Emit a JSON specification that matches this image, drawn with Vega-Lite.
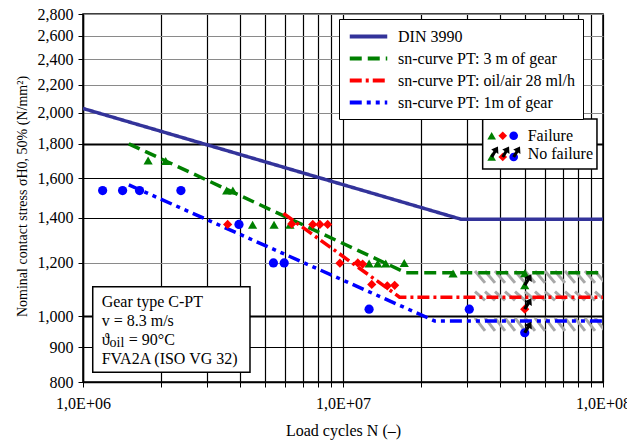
{
  "$schema": "https://vega.github.io/schema/vega-lite/v6.json",
  "width": 520,
  "height": 368,
  "autosize": {"type": "none"},
  "padding": {"left": 83, "top": 14, "right": 24, "bottom": 60},
  "background": "white",
  "config": {
    "font": "Liberation Serif",
    "view": {"stroke": "black", "strokeWidth": 1.5}
  },
  "datasets": {
    "curves": [
      {"series": "DIN 3990", "n": 1000000, "s": 2030},
      {"series": "DIN 3990", "n": 28500000, "s": 1392},
      {"series": "DIN 3990", "n": 100000000, "s": 1392},
      {"series": "sn-curve PT: 3 m of gear", "n": 1500000, "s": 1800},
      {"series": "sn-curve PT: 3 m of gear", "n": 17500000, "s": 1160},
      {"series": "sn-curve PT: 3 m of gear", "n": 100000000, "s": 1160},
      {"series": "sn-curve PT: oil/air 28 ml/h", "n": 5900000, "s": 1420},
      {"series": "sn-curve PT: oil/air 28 ml/h", "n": 16500000, "s": 1068},
      {"series": "sn-curve PT: oil/air 28 ml/h", "n": 100000000, "s": 1068},
      {"series": "sn-curve PT: 1m of gear", "n": 1500000, "s": 1565},
      {"series": "sn-curve PT: 1m of gear", "n": 22500000, "s": 985},
      {"series": "sn-curve PT: 1m of gear", "n": 100000000, "s": 985}
    ],
    "points": [
      {"series": "sn-curve PT: 1m of gear", "n": 1190000, "s": 1535, "nf": false},
      {"series": "sn-curve PT: 1m of gear", "n": 1420000, "s": 1535, "nf": false},
      {"series": "sn-curve PT: 1m of gear", "n": 1650000, "s": 1535, "nf": false},
      {"series": "sn-curve PT: 1m of gear", "n": 2380000, "s": 1535, "nf": false},
      {"series": "sn-curve PT: 1m of gear", "n": 3980000, "s": 1368, "nf": false},
      {"series": "sn-curve PT: 1m of gear", "n": 5400000, "s": 1200, "nf": false},
      {"series": "sn-curve PT: 1m of gear", "n": 5940000, "s": 1200, "nf": false},
      {"series": "sn-curve PT: 1m of gear", "n": 12600000, "s": 1025, "nf": false},
      {"series": "sn-curve PT: 1m of gear", "n": 30600000, "s": 1025, "nf": false},
      {"series": "sn-curve PT: 1m of gear", "n": 50000000, "s": 946, "nf": true},
      {"series": "sn-curve PT: 3 m of gear", "n": 1780000, "s": 1700, "nf": false},
      {"series": "sn-curve PT: 3 m of gear", "n": 2080000, "s": 1697, "nf": false},
      {"series": "sn-curve PT: 3 m of gear", "n": 3570000, "s": 1535, "nf": false},
      {"series": "sn-curve PT: 3 m of gear", "n": 3770000, "s": 1535, "nf": false},
      {"series": "sn-curve PT: 3 m of gear", "n": 4490000, "s": 1366, "nf": false},
      {"series": "sn-curve PT: 3 m of gear", "n": 5430000, "s": 1366, "nf": false},
      {"series": "sn-curve PT: 3 m of gear", "n": 6250000, "s": 1366, "nf": false},
      {"series": "sn-curve PT: 3 m of gear", "n": 12600000, "s": 1198, "nf": false},
      {"series": "sn-curve PT: 3 m of gear", "n": 13600000, "s": 1198, "nf": false},
      {"series": "sn-curve PT: 3 m of gear", "n": 14600000, "s": 1198, "nf": false},
      {"series": "sn-curve PT: 3 m of gear", "n": 17200000, "s": 1200, "nf": false},
      {"series": "sn-curve PT: 3 m of gear", "n": 26500000, "s": 1157, "nf": false},
      {"series": "sn-curve PT: 3 m of gear", "n": 50000000, "s": 1158, "nf": false},
      {"series": "sn-curve PT: 3 m of gear", "n": 50000000, "s": 1112, "nf": true},
      {"series": "sn-curve PT: oil/air 28 ml/h", "n": 3600000, "s": 1368, "nf": false},
      {"series": "sn-curve PT: oil/air 28 ml/h", "n": 6350000, "s": 1370, "nf": false},
      {"series": "sn-curve PT: oil/air 28 ml/h", "n": 7650000, "s": 1368, "nf": false},
      {"series": "sn-curve PT: oil/air 28 ml/h", "n": 8150000, "s": 1368, "nf": false},
      {"series": "sn-curve PT: oil/air 28 ml/h", "n": 8730000, "s": 1368, "nf": false},
      {"series": "sn-curve PT: oil/air 28 ml/h", "n": 9730000, "s": 1199, "nf": false},
      {"series": "sn-curve PT: oil/air 28 ml/h", "n": 11400000, "s": 1200, "nf": false},
      {"series": "sn-curve PT: oil/air 28 ml/h", "n": 11900000, "s": 1195, "nf": false},
      {"series": "sn-curve PT: oil/air 28 ml/h", "n": 12900000, "s": 1115, "nf": false},
      {"series": "sn-curve PT: oil/air 28 ml/h", "n": 14800000, "s": 1110, "nf": false},
      {"series": "sn-curve PT: oil/air 28 ml/h", "n": 15800000, "s": 1112, "nf": false},
      {"series": "sn-curve PT: oil/air 28 ml/h", "n": 50000000, "s": 1025, "nf": true}
    ],
    "hatch": [
      {"n": 32190000, "n2": 35170000, "s": 1167, "s2": 1121},
      {"n": 35170000, "n2": 38420000, "s": 1167, "s2": 1121},
      {"n": 38420000, "n2": 41980000, "s": 1167, "s2": 1121},
      {"n": 41980000, "n2": 45870000, "s": 1167, "s2": 1121},
      {"n": 45870000, "n2": 50120000, "s": 1167, "s2": 1121},
      {"n": 50120000, "n2": 54750000, "s": 1167, "s2": 1121},
      {"n": 54750000, "n2": 59820000, "s": 1167, "s2": 1121},
      {"n": 59820000, "n2": 65360000, "s": 1167, "s2": 1121},
      {"n": 65360000, "n2": 71420000, "s": 1167, "s2": 1121},
      {"n": 71420000, "n2": 78020000, "s": 1167, "s2": 1121},
      {"n": 78020000, "n2": 85250000, "s": 1167, "s2": 1121},
      {"n": 85250000, "n2": 93160000, "s": 1167, "s2": 1121},
      {"n": 93160000, "n2": 101800000, "s": 1167, "s2": 1121},
      {"n": 32190000, "n2": 35170000, "s": 1088, "s2": 1056},
      {"n": 35170000, "n2": 38420000, "s": 1088, "s2": 1056},
      {"n": 38420000, "n2": 41980000, "s": 1088, "s2": 1056},
      {"n": 41980000, "n2": 45870000, "s": 1088, "s2": 1056},
      {"n": 45870000, "n2": 50120000, "s": 1088, "s2": 1056},
      {"n": 50120000, "n2": 54750000, "s": 1088, "s2": 1056},
      {"n": 54750000, "n2": 59820000, "s": 1088, "s2": 1056},
      {"n": 59820000, "n2": 65360000, "s": 1088, "s2": 1056},
      {"n": 65360000, "n2": 71420000, "s": 1088, "s2": 1056},
      {"n": 71420000, "n2": 78020000, "s": 1088, "s2": 1056},
      {"n": 78020000, "n2": 85250000, "s": 1088, "s2": 1056},
      {"n": 85250000, "n2": 93160000, "s": 1088, "s2": 1056},
      {"n": 93160000, "n2": 101800000, "s": 1088, "s2": 1056},
      {"n": 32190000, "n2": 35170000, "s": 995, "s2": 952},
      {"n": 35170000, "n2": 38420000, "s": 995, "s2": 952},
      {"n": 38420000, "n2": 41980000, "s": 995, "s2": 952},
      {"n": 41980000, "n2": 45870000, "s": 995, "s2": 952},
      {"n": 45870000, "n2": 50120000, "s": 995, "s2": 952},
      {"n": 50120000, "n2": 54750000, "s": 995, "s2": 952},
      {"n": 54750000, "n2": 59820000, "s": 995, "s2": 952},
      {"n": 59820000, "n2": 65360000, "s": 995, "s2": 952},
      {"n": 65360000, "n2": 71420000, "s": 995, "s2": 952},
      {"n": 71420000, "n2": 78020000, "s": 995, "s2": 952},
      {"n": 78020000, "n2": 85250000, "s": 995, "s2": 952},
      {"n": 85250000, "n2": 93160000, "s": 995, "s2": 952},
      {"n": 93160000, "n2": 101800000, "s": 995, "s2": 952}
    ],
    "keybox": [{"n": 34450000, "n2": 94800000, "s": 1652, "s2": 1958}],
    "keymarks": [
      {"series": "sn-curve PT: 3 m of gear", "n": 37300000, "s": 1850, "nf": false},
      {"series": "sn-curve PT: oil/air 28 ml/h", "n": 41150000, "s": 1850, "nf": false},
      {"series": "sn-curve PT: 1m of gear", "n": 45340000, "s": 1850, "nf": false},
      {"series": "sn-curve PT: 3 m of gear", "n": 37300000, "s": 1721, "nf": true},
      {"series": "sn-curve PT: oil/air 28 ml/h", "n": 41150000, "s": 1721, "nf": true},
      {"series": "sn-curve PT: 1m of gear", "n": 45340000, "s": 1721, "nf": true}
    ],
    "keytext": [
      {"n": 51340000, "s": 1850, "t": "Failure"},
      {"n": 51340000, "s": 1739, "t": "No failure"}
    ],
    "notebox": [{"n": 1090000, "n2": 4388000, "s": 827, "s2": 1106}],
    "notes": [
      {"n": 1180000, "s": 1052, "t": "Gear type C-PT"},
      {"n": 1180000, "s": 986, "t": "v = 8.3 m/s"},
      {"n": 1180000, "s": 923, "t": "ϑ"},
      {"n": 1500000, "s": 923, "t": "= 90°C"},
      {"n": 1180000, "s": 864, "t": "FVA2A (ISO VG 32)"}
    ],
    "notesub": [{"n": 1265000, "s": 913, "t": "oil"}]
  },
  "encoding": {
    "x": {
      "field": "n",
      "type": "quantitative",
      "scale": {"type": "log", "domain": [1000000, 100000000], "nice": false},
      "axis": {
        "values": [1000000, 2000000, 3000000, 4000000, 5000000, 6000000, 7000000, 8000000, 9000000, 10000000, 20000000, 30000000, 40000000, 50000000, 60000000, 70000000, 80000000, 90000000, 100000000],
        "labelExpr": "datum.value == 1000000 ? '1,0E+06' : datum.value == 10000000 ? '1,0E+07' : datum.value == 100000000 ? '1,0E+08' : ''",
        "title": "Load cycles N (–)",
        "grid": true,
        "gridColor": "black",
        "gridWidth": 1.2,
        "tickSize": 5,
        "tickColor": "black",
        "domainColor": "black",
        "domainWidth": 1.5,
        "labelFontSize": 16,
        "labelColor": "black",
        "labelPadding": 8,
        "labelFlush": false,
        "labelOverlap": false,
        "titleFontSize": 16,
        "titleFontWeight": "normal",
        "titleColor": "black",
        "titleY": 53,
        "titleBaseline": "alphabetic"
      }
    },
    "y": {
      "field": "s",
      "type": "quantitative",
      "scale": {"type": "log", "domain": [800, 2800], "nice": false},
      "axis": {
        "values": [800, 900, 1000, 1200, 1400, 1600, 1800, 2000, 2200, 2400, 2600, 2800],
        "format": ",d",
        "title": "Nominal contact stress σH0, 50% (N/mm²)",
        "grid": true,
        "gridColor": {"condition": {"test": "datum.value == 1200 || datum.value >= 2000", "value": "#8a8a8a"}, "value": "black"},
        "gridWidth": {"condition": {"test": "datum.value == 1000 || datum.value == 1800", "value": 2}, "value": 1.2},
        "tickSize": 5,
        "tickColor": "black",
        "domainColor": "black",
        "domainWidth": 1.5,
        "labelFontSize": 16,
        "labelColor": "black",
        "labelPadding": 5,
        "labelOverlap": false,
        "titleFontSize": 14,
        "titleFontWeight": "normal",
        "titleColor": "black",
        "titleX": -57,
        "titleY": 182,
        "titleBaseline": "alphabetic"
      }
    }
  },
  "layer": [
    {
      "data": {"name": "hatch"},
      "mark": {"type": "rule", "color": "#a8a8a8", "strokeWidth": 3, "clip": true},
      "encoding": {"x2": {"field": "n2"}, "y2": {"field": "s2"}}
    },
    {
      "data": {"name": "curves"},
      "mark": {"type": "line", "strokeWidth": 3.5, "clip": true},
      "encoding": {
        "color": {
          "field": "series",
          "type": "nominal",
          "scale": {
            "domain": ["DIN 3990", "sn-curve PT: 3 m of gear", "sn-curve PT: oil/air 28 ml/h", "sn-curve PT: 1m of gear"],
            "range": ["#33339a", "#008000", "#ff0000", "#0000ff"]
          },
          "legend": {
            "title": null,
            "orient": "none",
            "legendX": 256,
            "legendY": 5,
            "symbolType": "M-2.5,0L2.5,0",
            "symbolSize": 225,
            "symbolOffset": 12,
            "symbolStrokeWidth": 4,
            "labelFontSize": 16,
            "labelFont": "Liberation Serif",
            "labelColor": "black",
            "labelLimit": 400,
            "labelOffset": 20,
            "strokeColor": "black",
            "fillColor": "white",
            "padding": 8,
            "rowPadding": 4
          }
        },
        "strokeDash": {
          "field": "series",
          "type": "nominal",
          "scale": {
            "domain": ["DIN 3990", "sn-curve PT: 3 m of gear", "sn-curve PT: oil/air 28 ml/h", "sn-curve PT: 1m of gear"],
            "range": [[1, 0], [12, 6], [12, 4, 3, 4], [12, 5, 4, 5, 4, 5]]
          },
          "legend": {
            "title": null,
            "orient": "none",
            "legendX": 256,
            "legendY": 5,
            "symbolType": "M-2.5,0L2.5,0",
            "symbolSize": 225,
            "symbolOffset": 12,
            "symbolStrokeWidth": 4,
            "labelFontSize": 16,
            "labelFont": "Liberation Serif",
            "labelColor": "black",
            "labelLimit": 400,
            "labelOffset": 20,
            "strokeColor": "black",
            "fillColor": "white",
            "padding": 8,
            "rowPadding": 4
          }
        }
      }
    },
    {
      "data": {"name": "points"},
      "mark": {"type": "point", "filled": true, "size": 85, "opacity": 1},
      "encoding": {
        "color": {"field": "series", "type": "nominal", "legend": null},
        "shape": {
          "field": "series",
          "type": "nominal",
          "scale": {
            "domain": ["sn-curve PT: 3 m of gear", "sn-curve PT: oil/air 28 ml/h", "sn-curve PT: 1m of gear"],
            "range": ["triangle-up", "diamond", "circle"]
          },
          "legend": null
        }
      }
    },
    {
      "data": {"name": "points"},
      "transform": [{"filter": "datum.nf"}],
      "mark": {"type": "point", "filled": true, "opacity": 1, "color": "black", "size": 484, "shape": "M-0.129,-0.077 L0.171,-0.577 L-0.043,-0.706 L0.6,-1 L0.643,-0.294 L0.429,-0.423 L0.129,0.077 Z"}
    },
    {
      "data": {"name": "keybox"},
      "mark": {"type": "rect", "fill": "white", "stroke": "black", "strokeWidth": 1.5},
      "encoding": {"x2": {"field": "n2"}, "y2": {"field": "s2"}}
    },
    {
      "data": {"name": "keymarks"},
      "mark": {"type": "point", "filled": true, "size": 75, "opacity": 1},
      "encoding": {
        "color": {"field": "series", "type": "nominal", "legend": null},
        "shape": {"field": "series", "type": "nominal", "legend": null}
      }
    },
    {
      "data": {"name": "keymarks"},
      "transform": [{"filter": "datum.nf"}],
      "mark": {"type": "point", "filled": true, "opacity": 1, "color": "black", "size": 441, "shape": "M-0.129,-0.077 L0.171,-0.577 L-0.043,-0.706 L0.6,-1 L0.643,-0.294 L0.429,-0.423 L0.129,0.077 Z"}
    },
    {
      "data": {"name": "keytext"},
      "mark": {"type": "text", "align": "left", "baseline": "middle", "fontSize": 16, "font": "Liberation Serif", "color": "black"},
      "encoding": {"text": {"field": "t"}}
    },
    {
      "data": {"name": "notebox"},
      "mark": {"type": "rect", "fill": "white", "stroke": "black", "strokeWidth": 1.5},
      "encoding": {"x2": {"field": "n2"}, "y2": {"field": "s2"}}
    },
    {
      "data": {"name": "notes"},
      "mark": {"type": "text", "align": "left", "baseline": "middle", "fontSize": 16, "font": "Liberation Serif", "color": "black"},
      "encoding": {"text": {"field": "t"}}
    },
    {
      "data": {"name": "notesub"},
      "mark": {"type": "text", "align": "left", "baseline": "middle", "fontSize": 14, "font": "Liberation Serif", "color": "black"},
      "encoding": {"text": {"field": "t"}}
    }
  ]
}
